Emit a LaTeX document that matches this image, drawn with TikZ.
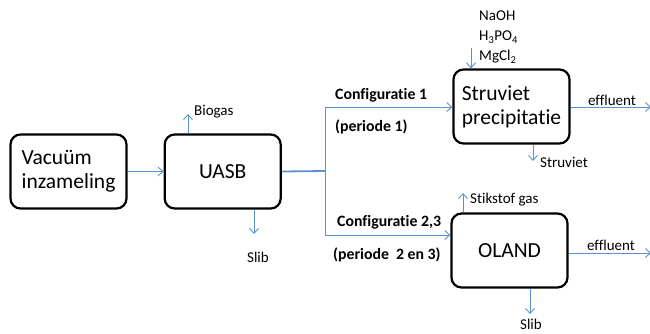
\documentclass[tikz,border=0pt]{standalone}
\usepackage{fontspec}
\setmainfont{Carlito}[Ligatures=NoCommon]
\usetikzlibrary{arrows.meta, positioning, calc}
\definecolor{cFlow}{RGB}{91,145,205}
\tikzset{
	unit/.style={rectangle, rounded corners=10pt, draw=black, line width=2.2pt, minimum width=116pt, minimum height=74pt, align=center, font=\fontsize{21.5}{24}\selectfont, inner sep=2pt},
	flow/.style={-{Straight Barb[length=5pt, width=9pt]}, draw=cFlow, line width=0.9pt},
	feed/.style={draw=cFlow, line width=1.8pt},
	pipe/.style={draw=cFlow, line width=0.9pt},
	lbl/.style={font=\fontsize{15}{20}\selectfont, inner sep=1pt},
	cfg/.style={inner sep=1pt, font=\fontsize{15.8}{16}\selectfont\bfseries},
}

\begin{document}
\begin{tikzpicture}[x=1pt, y=-1pt]
	\useasboundingbox (0,0) rectangle (650,333);
	% process units
	\node[unit, align=left] (vac) at (68.5,171.5) {Vacuüm\\inzameling};
	\node[unit, right=36pt of vac] (uasb) {UASB};
	\node[unit, align=left] (struv) at (511.5,106.5) {Struviet\\precipitatie};
	\node[unit] (oland) at (509.5,250.5) {OLAND};
	% split towards the two configurations
	\coordinate (split) at (325,171);
	\coordinate (upper) at (325,107);
	\coordinate (lower) at (325,235);
	\draw[flow] (vac) -- (uasb);
	\draw[feed] (uasb.east) -- (split);
	\draw[pipe] (upper) -- (lower);
	\draw[flow] (upper) -- (upper -| struv.west);
	\draw[flow] (lower) -- (lower -| oland.west);
	\node[cfg, anchor=west] (cfgA) at (334,95) {Configuratie 1};
	\node[cfg, anchor=west] (perA) at (334,127) {(periode 1)};
	\node[cfg, anchor=west] (cfgB) at (336,222) {Configuratie 2,3};
	\node[cfg, anchor=west] (perB) at (332,255) {(periode~ 2 en 3)};
	% side streams of the UASB
	\coordinate (gasout) at (188,114);
	\coordinate (slibA) at (254,234);
	\draw[flow] (gasout |- uasb.north) -- (gasout);
	\draw[flow] (slibA |- uasb.south) -- (slibA);
	\node[lbl, anchor=west] (biogas) at (193,112) {Biogas};
	\node[lbl] (slibAlbl) at (258,257) {Slib};
	% dosing and products of the struvite reactor
	\node[lbl, align=left, anchor=north west] (chem) at (478,10) {NaOH\\H\textsubscript{3}PO\textsubscript{4}\\MgCl\textsubscript{2}};
	\coordinate (dose) at (471,48);
	\coordinate (struvout) at (533,161);
	\coordinate (effA) at (651,107);
	\draw[flow] (dose) -- (dose |- struv.north);
	\draw[flow] (struvout |- struv.south) -- (struvout);
	\draw[flow] (struv.east |- effA) -- (effA);
	\node[lbl, anchor=west] (struvlbl) at (539,162) {Struviet};
	\node[lbl] (effAlbl) at (612,100) {effluent};
	% products of the OLAND reactor
	\coordinate (n2out) at (463,193);
	\coordinate (slibB) at (530,314);
	\coordinate (effB) at (651,253);
	\draw[flow] (n2out |- oland.north) -- (n2out);
	\draw[flow] (slibB |- oland.south) -- (slibB);
	\draw[flow] (oland.east |- effB) -- (effB);
	\node[lbl, anchor=west] (n2lbl) at (469,200) {Stikstof gas};
	\node[lbl] (slibBlbl) at (531,324) {Slib};
	\node[lbl] (effBlbl) at (611,245) {effluent};
\end{tikzpicture}
\end{document}
